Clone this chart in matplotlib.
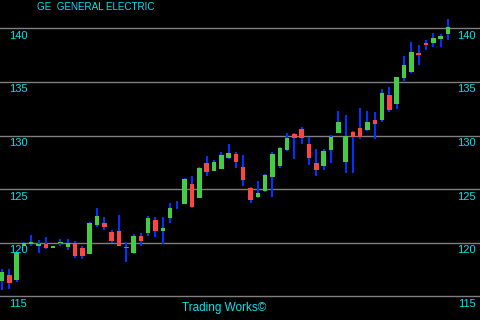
import numpy as np
import matplotlib
matplotlib.use("Agg")
from matplotlib import pyplot as plt

# OHLC
opens = [116.43, 116.99, 116.52, 119.69, 119.88, 119.69, 119.88, 119.55, 119.97, 119.60,
         119.97, 119.51, 118.95, 121.65, 121.84, 121.00, 121.09, 119.55, 119.04, 120.63,
         120.90, 122.12, 121.09, 122.30, 123.72, 123.61, 125.48, 124.17, 127.43, 126.69,
         126.87, 127.90, 128.27, 127.06, 125.10, 124.26, 124.82, 126.13, 127.15, 128.65,
         130.14, 130.61, 129.21, 127.43, 127.15, 128.65, 130.23, 127.53, 130.33, 130.70,
         130.51, 131.45, 131.45, 133.78, 132.94, 135.36, 135.92, 137.70, 138.63, 138.63,
         139.00, 139.47]
closes = [117.27, 116.24, 119.04, 119.97, 120.07, 119.88, 119.51, 119.65, 120.00, 119.97,
          118.76, 118.76, 121.84, 122.49, 121.46, 120.16, 119.69, 119.48, 120.63, 120.16,
          122.30, 121.09, 121.37, 123.24, 123.66, 125.94, 123.33, 126.97, 126.60, 127.53,
          128.18, 128.37, 127.53, 125.85, 123.98, 124.64, 126.32, 128.27, 128.83, 129.77,
          129.77, 129.77, 127.90, 126.78, 128.55, 129.86, 131.26, 129.95, 129.86, 129.86,
          131.26, 131.07, 133.96, 132.38, 135.46, 136.58, 137.79, 137.51, 138.44, 139.10,
          139.28, 140.12]
highs = [117.55, 117.55, 119.10, 120.07, 120.72, 120.25, 120.53, 119.70, 120.35, 120.35,
         120.16, 119.69, 121.90, 123.24, 122.40, 121.18, 122.58, 120.07, 120.82, 120.90,
         122.49, 122.40, 122.40, 123.70, 123.89, 126.04, 126.22, 127.06, 128.09, 127.72,
         128.46, 129.21, 128.46, 128.18, 125.20, 125.76, 126.41, 128.46, 128.93, 130.23,
         130.23, 130.79, 129.86, 128.74, 128.74, 130.05, 132.29, 131.91, 130.42, 132.57,
         132.29, 132.19, 134.34, 134.52, 135.50, 137.42, 138.72, 138.44, 138.91, 139.56,
         139.47, 140.87]
lows = [115.59, 115.68, 116.34, 119.69, 119.69, 119.04, 119.41, 119.50, 119.69, 119.32,
        118.57, 118.48, 118.90, 121.46, 121.18, 119.97, 119.65, 118.20, 118.95, 119.69,
        120.63, 120.53, 119.88, 121.84, 123.14, 123.61, 123.24, 124.17, 126.22, 126.69,
        126.87, 127.81, 126.97, 125.29, 123.70, 124.17, 124.73, 124.26, 126.97, 128.55,
        127.81, 129.21, 127.25, 126.22, 126.78, 127.43, 130.23, 126.50, 126.50, 129.67,
        130.42, 129.67, 131.26, 132.19, 132.47, 135.08, 135.83, 136.58, 137.98, 138.26,
        138.26, 138.91]

yticks = [115, 120, 125, 130, 135, 140]
title = "GE  GENERAL ELECTRIC"
footer = "Trading Works\u00a9"

txt_color = "#00e5ee"
green = "#44cc44"
red = "#ff4444"
wick_color = "#0033ff"

plt.rcParams["font.family"] = ["Liberation Sans", "DejaVu Sans"]

fig = plt.figure(figsize=(4.8, 3.2), dpi=100, facecolor="black")
ax = fig.add_axes([0, 0, 1, 1], facecolor="black")

x = np.arange(len(opens))
o = np.array(opens)
c = np.array(closes)

for t in yticks:
    ax.axhline(t, color="#808080", lw=1, zorder=1)

# wicks first, bodies on top
ax.vlines(x, lows, highs, color=wick_color, lw=1.5, zorder=2)
cols = [green if cc >= oo else red for oo, cc in zip(o, c)]
h = np.maximum(np.abs(c - o), 0.08)
ax.bar(x, h, bottom=np.minimum(o, c), width=0.62, color=cols, zorder=3)

ax.set_xlim(-0.27, 65.39)
ax.set_ylim(112.79, 142.64)
ax.set_axis_off()

# price labels just under each grid line, both sides
for t in yticks:
    ax.annotate(str(t), xy=(0, t), xycoords=("axes fraction", "data"),
                xytext=(9, -2.5), textcoords="offset pixels",
                color=txt_color, fontsize=8, va="top", ha="left")
    ax.annotate(str(t), xy=(1, t), xycoords=("axes fraction", "data"),
                xytext=(-4, -2.5), textcoords="offset pixels",
                color=txt_color, fontsize=8, va="top", ha="right")

fig.text(37 / 480, 1 - 7 / 320, title, color=txt_color, fontsize=7.1,
         ha="left", va="center")
fig.text(224 / 480, 1 - 308 / 320, footer, color=txt_color, fontsize=8.5,
         ha="center", va="center")

fig.savefig("out.png", dpi=100, facecolor="black")
